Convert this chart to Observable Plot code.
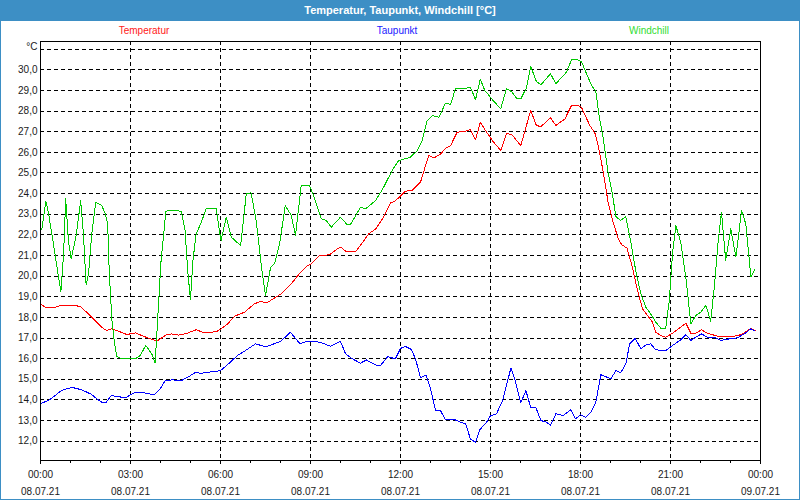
<!DOCTYPE html>
<html>
<head>
<meta charset="utf-8">
<script src="https://cdn.jsdelivr.net/npm/d3@7"></script>
<script src="https://cdn.jsdelivr.net/npm/@observablehq/plot@0.6"></script>
<style>
  body { margin: 0; background: #fff; }
  #wrap { position: relative; width: 800px; height: 500px; background: #fff; overflow: hidden;
          font-family: "Liberation Sans", Arial, sans-serif; }
  #title { position: absolute; left: 0; top: 0; width: 800px; height: 21px; background: #3d8fc5;
           color: #fff; font-weight: bold; font-size: 11px; line-height: 21px; text-align: center; }
  #legend { position: absolute; left: 0; top: 21px; width: 800px; height: 19px; font-size: 10px; line-height: 19px; }
  #legend span { position: absolute; top: 0; transform: translateX(-50%); white-space: nowrap; }
  #chart { position: absolute; left: 0; top: 40px; }
  #border { position: absolute; left: 0; top: 0; width: 800px; height: 500px; box-sizing: border-box;
            border: 1px solid #3d8fc5; pointer-events: none; }
</style>
</head>
<body>
<div id="wrap">
  <div id="title">Temperatur, Taupunkt, Windchill [°C]</div>
  <div id="legend"></div>
  <div id="chart"></div>
  <div id="border"></div>
</div>
<script>
// ---- Data (hours since 08.07.21 00:00, °C) ----
const seriesNames = ["Temperatur", "Taupunkt", "Windchill"];
const seriesColors = ["#ff0000", "#0000ff", "#00c800"];
const legendColors = ["#ff2020", "#2020ff", "#30dd30"];

const tempHours = [0.0,0.16,0.49,0.71,1.04,1.32,1.6,1.71,1.93,2.1,2.21,2.38,2.6,2.88,3.16,3.38,3.6,3.82,3.93,4.21,4.38,4.6,4.88,5.19,5.47,5.86,6.02,6.24,6.47,6.8,7.13,7.3,7.58,8.02,8.36,8.58,8.86,9.02,9.3,9.63,9.89,10.02,10.2,10.5,10.72,10.94,11.17,11.4,11.67,11.83,12.17,12.39,12.67,12.94,13.11,13.33,13.5,13.67,13.89,14.11,14.33,14.5,14.66,14.87,15.09,15.34,15.53,15.7,16.01,16.34,16.53,16.68,17.0,17.18,17.48,17.7,17.9,18.03,18.31,18.48,18.59,18.76,18.92,19.09,19.26,19.37,19.55,19.73,19.9,20.07,20.23,20.4,20.51,20.68,20.84,21.07,21.29,21.51,21.68,21.84,22.03,22.23,22.62,22.9,23.23,23.46,23.68,23.82];
const tempValues = [18.66,18.49,18.49,18.6,18.6,18.53,18.17,18.0,17.69,17.45,17.36,17.45,17.33,17.17,17.25,17.12,16.99,16.88,16.9,17.17,17.2,17.14,17.23,17.4,17.25,17.31,17.44,17.69,18.06,18.25,18.66,18.75,18.74,19.14,19.63,20.03,20.47,20.6,21.0,21.03,21.32,21.4,21.17,21.18,21.6,22.05,22.28,22.78,23.55,23.65,24.12,24.15,24.57,25.85,25.73,25.9,26.2,26.33,26.98,27.0,27.1,26.6,27.45,26.98,26.52,26.09,26.9,26.88,26.33,28.03,27.3,27.25,27.67,27.3,27.62,28.27,28.27,28.19,27.3,26.93,26.33,25.04,23.58,22.61,21.8,21.53,21.36,20.43,19.3,18.41,18.09,17.77,17.28,17.12,17.04,17.23,17.47,17.72,17.23,17.23,17.4,17.23,17.07,17.09,17.1,17.25,17.47,17.36];

const dewHours = [0.02,0.27,0.49,0.69,1.04,1.38,1.71,1.88,2.04,2.19,2.36,2.6,2.82,3.16,3.38,3.54,3.8,3.99,4.16,4.38,4.71,4.91,5.17,5.33,6.0,6.33,6.56,6.83,7.17,7.5,8.0,8.33,8.65,8.87,9.2,9.41,9.67,10.0,10.17,10.4,10.67,10.86,11.2,11.33,11.58,11.83,12.0,12.17,12.36,12.5,12.67,12.85,13.0,13.17,13.33,13.5,13.83,14.0,14.17,14.33,14.5,14.64,14.87,15.0,15.2,15.4,15.68,15.81,16.01,16.18,16.34,16.51,16.68,16.87,17.0,17.18,17.42,17.68,17.83,18.0,18.18,18.34,18.51,18.68,18.84,19.01,19.18,19.34,19.51,19.64,19.82,20.01,20.18,20.34,20.51,20.84,21.07,21.34,21.51,21.68,21.84,22.03,22.23,22.46,22.68,22.96,23.23,23.46,23.68,23.82];
const dewValues = [13.84,13.97,14.21,14.45,14.61,14.49,14.26,14.05,13.89,13.89,14.21,14.16,14.1,14.37,14.37,14.32,14.25,14.54,14.94,14.97,14.95,15.1,15.34,15.29,15.42,15.83,16.15,16.39,16.72,16.57,16.83,17.28,16.72,16.83,16.83,16.75,16.6,16.84,16.23,15.99,15.78,15.94,15.67,15.67,16.1,15.99,16.5,16.59,16.45,15.99,15.07,15.2,14.54,13.49,13.49,13.03,13.03,12.92,12.84,12.11,11.95,12.55,12.92,13.24,13.32,13.97,15.54,15.02,13.86,14.45,13.64,13.64,13.0,12.92,12.76,13.33,13.24,13.52,13.08,13.28,13.16,13.4,13.89,15.22,15.13,15.02,15.42,15.31,15.75,16.72,16.99,16.48,16.67,16.72,16.43,16.39,16.64,16.91,17.17,16.88,17.04,17.2,17.04,17.04,16.88,16.96,17.01,17.2,17.45,17.33];

const windHours = [0.04,0.18,0.27,0.43,0.6,0.68,0.77,0.84,0.93,1.02,1.18,1.34,1.43,1.52,1.6,1.71,1.84,2.04,2.16,2.24,2.29,2.38,2.47,2.54,2.71,3.16,3.32,3.51,3.71,3.82,3.91,4.01,4.18,4.36,4.69,4.82,4.91,5.0,5.08,5.19,5.36,5.52,5.86,5.97,6.02,6.19,6.36,6.67,6.86,7.02,7.19,7.38,7.5,7.67,7.8,7.97,8.16,8.36,8.5,8.69,8.97,9.08,9.36,9.52,9.69,10.0,10.22,10.33,10.67,10.83,11.17,11.44,11.72,11.94,12.33,12.56,12.72,12.89,13.06,13.28,13.5,13.67,13.83,14.11,14.33,14.5,14.66,14.81,15.09,15.34,15.53,15.7,15.87,16.01,16.2,16.34,16.53,16.68,17.0,17.18,17.37,17.53,17.7,17.9,18.03,18.2,18.37,18.51,18.62,18.76,18.92,19.07,19.18,19.33,19.51,19.68,19.84,20.01,20.18,20.4,20.51,20.68,20.84,20.96,21.07,21.18,21.34,21.51,21.68,21.84,22.01,22.18,22.34,22.46,22.59,22.7,22.84,23.01,23.18,23.37,23.51,23.68,23.82];
const windValues = [22.24,23.63,23.02,21.57,19.95,19.25,21.08,23.75,21.73,20.84,21.89,23.66,22.05,19.58,20.11,22.05,23.58,23.42,23.02,22.53,20.27,17.85,16.72,16.1,15.99,15.99,16.15,16.64,16.23,15.78,18.01,20.6,23.15,23.18,23.15,22.2,20.2,18.85,20.76,22.05,22.61,23.26,23.26,22.13,21.73,22.86,21.89,21.48,23.99,24.04,22.69,20.27,19.06,20.43,20.6,21.57,23.42,22.94,21.97,24.39,24.38,23.99,22.78,22.7,22.37,22.86,22.5,22.5,23.34,23.26,23.66,24.31,25.12,25.6,25.76,26.09,26.57,27.54,27.78,27.7,28.38,28.32,29.08,29.08,29.16,28.55,29.55,29.0,28.51,28.11,29.08,28.95,28.62,28.59,29.13,30.17,29.43,29.27,29.81,29.32,29.64,29.88,30.48,30.48,30.4,29.81,29.24,28.95,27.78,26.66,25.04,23.91,22.89,22.7,22.88,21.64,20.27,19.14,18.49,18.04,17.77,17.47,17.47,18.82,21.16,22.45,21.64,19.95,17.69,18.09,18.25,18.58,17.81,19.46,21.73,23.1,20.76,22.29,20.92,23.18,22.53,19.95,20.35];

// ---- Axes ----
const yTicks = [12,13,14,15,16,17,18,19,20,21,22,23,24,25,26,27,28,29,30];
const yUnitTick = [31];
const yTopLabel = "°C";
const minorHours = [1,2,4,5,7,8,10,11,13,14,16,17,19,20,22,23];
const majorHours = [0,3,6,9,12,15,18,21,24];
const xTimeLabels = ["00:00","03:00","06:00","09:00","12:00","15:00","18:00","21:00","00:00"];
const xDateLabels = ["08.07.21","08.07.21","08.07.21","08.07.21","08.07.21","08.07.21","08.07.21","08.07.21","09.07.21"];
const gridHours = [3,6,9,12,15,18,21];

// ---- Build table ----
const rows = [];
[[tempHours, tempValues], [dewHours, dewValues], [windHours, windValues]].forEach(([hs, vs], k) => {
  hs.forEach((h, i) => rows.push({series: seriesNames[k], hour: h, value: vs[i]}));
});

// legend
const legendX = [144, 397, 649];
const legend = document.getElementById("legend");
seriesNames.forEach((n, i) => {
  const s = document.createElement("span");
  s.textContent = n;
  s.style.left = legendX[i] + "px";
  s.style.color = legendColors[i];
  legend.appendChild(s);
});

const dash = "4,3";
const ink = "#1a1a1a";
const chart = Plot.plot({
  width: 800,
  height: 460,
  marginTop: 1,
  marginLeft: 40,
  marginRight: 40,
  marginBottom: 40,
  style: {fontFamily: '"Liberation Sans", Arial, sans-serif', fontSize: "10px", color: ink, background: "white", overflow: "visible"},
  x: {domain: [0, 24]},
  y: {domain: [11.064, 31.372]},
  color: {domain: seriesNames, range: seriesColors},
  marks: [
    Plot.gridY(yTicks.concat(yUnitTick), {stroke: "black", strokeOpacity: 1, strokeDasharray: dash, shapeRendering: "crispEdges"}),
    Plot.gridX(gridHours, {stroke: "black", strokeOpacity: 1, strokeDasharray: dash, shapeRendering: "crispEdges"}),
    Plot.axisY(yTicks, {tickSize: 0, tickPadding: 3, label: null, fill: ink,
      tickFormat: d => d.toFixed(1).replace(".", ",")}),
    Plot.axisY(yUnitTick, {tickSize: 0, tickPadding: 3, label: null, fill: ink, dy: -2,
      tickFormat: () => yTopLabel}),
    Plot.axisX(minorHours, {tickSize: 3, label: null, tickFormat: () => "", stroke: "black"}),
    Plot.axisX(majorHours, {tickSize: 4, tickPadding: 1.5, label: null, lineHeight: 1.7, stroke: "black", fill: ink,
      tickFormat: d => xTimeLabels[majorHours.indexOf(d)] + "\n" + xDateLabels[majorHours.indexOf(d)]}),
    Plot.lineY(rows, {x: "hour", y: "value", z: "series", stroke: "series", strokeWidth: 1, shapeRendering: "crispEdges"}),
    Plot.frame({stroke: "black", shapeRendering: "crispEdges"})
  ]
});
document.getElementById("chart").appendChild(chart);
</script>
</body>
</html>
